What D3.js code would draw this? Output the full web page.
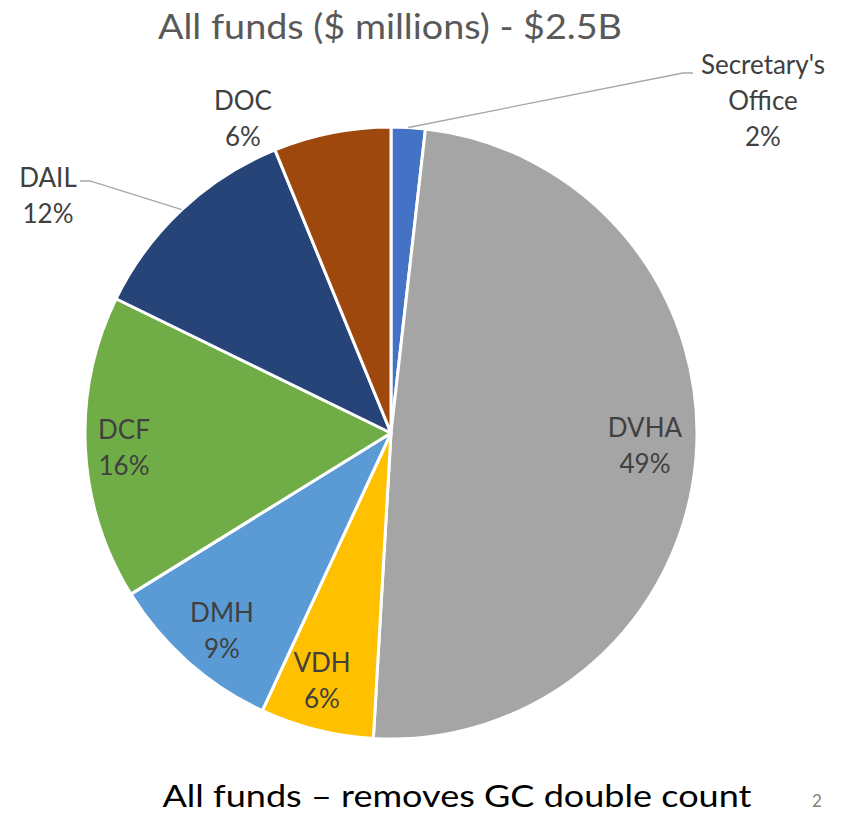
<!DOCTYPE html>
<html><head><meta charset="utf-8">
<script src="https://cdn.jsdelivr.net/npm/d3@7"></script>
<style>body{margin:0;background:#fff}svg{display:block}</style>
</head><body><svg id="c" width="852" height="818"></svg>
<script>
const categories = ["Secretary's Office","DVHA","VDH","DMH","DCF","DAIL","DOC"];
const values = [45,1230,150,232,402,290,155];
const colors = ["#4472C4","#A5A5A5","#FFC000","#5B9BD5","#70AD47","#264478","#9E480E"];
const labelLines = [["Secretary's","Office"],["DVHA"],["VDH"],["DMH"],["DCF"],["DAIL"],["DOC"]];
// label anchor positions (center x, first line y) in px
const labelPos = [[763,65],[645,428],[322,663],[222,613],[124,430],[48,178],[243,101]];
const title = "All funds ($ millions) - $2.5B";
const footer = "All funds \u2013 removes GC double count";

const svg = d3.select("#c");
const font = "Lato, 'Open Sans', sans-serif";
const cx = 391, cy = 433, r = 306;
const total = d3.sum(values);
const data = categories.map((c,i)=>({c, v:values[i], i}));
const pie = d3.pie().sort(null).value(d=>d.v);
const arcs = pie(data);
const arc = d3.arc().innerRadius(0).outerRadius(r);
const g = svg.append("g").attr("transform",`translate(${cx},${cy})`);
g.selectAll("path").data(arcs).join("path")
  .attr("d",arc).attr("fill",d=>colors[d.data.i])
  .attr("stroke","#fff").attr("stroke-width",3).attr("stroke-linejoin","round");

svg.append("text").attr("x",390).attr("y",39).attr("text-anchor","middle")
  .attr("font-family",font).attr("font-size",34).attr("fill","#595959")
  .attr("textLength",464).attr("lengthAdjust","spacingAndGlyphs").text(title);

// leader lines
const outer = d3.arc().innerRadius(r).outerRadius(r);
const leaders = {0:[[683,73],[693,73]],5:[[90,181],[80,181]]};
Object.keys(leaders).forEach(k=>{
  const a = arcs[k];
  const p = outer.centroid(a);
  const pts = [[cx+p[0],cy+p[1]]].concat(leaders[k]);
  svg.append("path").attr("d",d3.line()(pts)).attr("fill","none")
    .attr("stroke","#A6A6A6").attr("stroke-width",1.3);
});

arcs.forEach((a,i)=>{
  const [lx,ly] = labelPos[i];
  const lines = labelLines[i].concat([Math.round(a.data.v/total*100)+"%"]);
  const t = svg.append("text").attr("text-anchor","middle").attr("font-family",font)
    .attr("font-size",26).attr("fill","#404040");
  lines.forEach((s,j)=>t.append("tspan").attr("x",lx).attr("y",ly+j*36).attr("dy","0.35em").text(s));
});

svg.append("text").attr("x",457).attr("y",807).attr("text-anchor","middle")
  .attr("font-family",font).attr("font-size",31).attr("fill","#000")
  .attr("textLength",589).attr("lengthAdjust","spacingAndGlyphs").text(footer);
svg.append("text").attr("x",817).attr("y",807).attr("text-anchor","middle")
  .attr("font-family",font).attr("font-size",17).attr("fill","#808080").text("2");
</script></body></html>
